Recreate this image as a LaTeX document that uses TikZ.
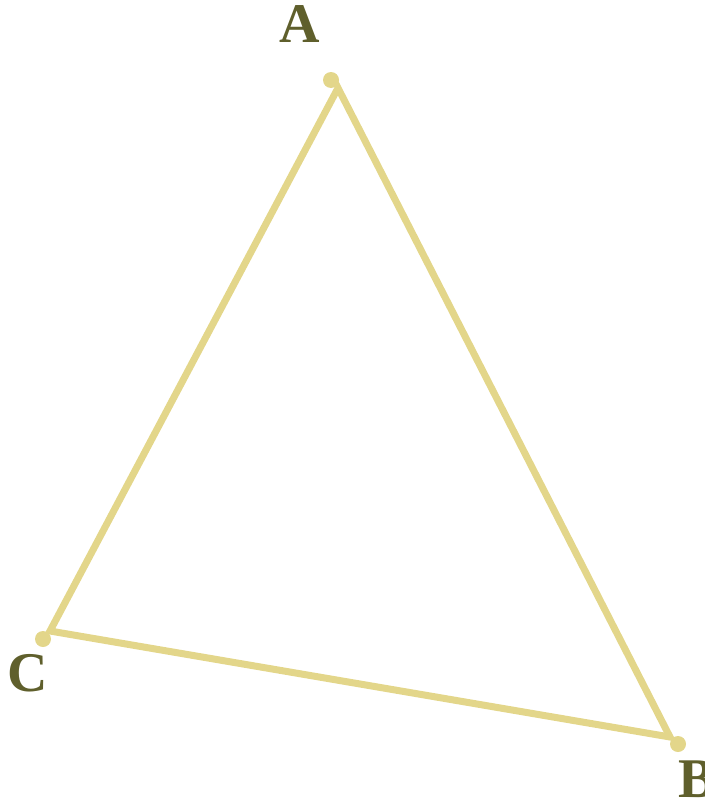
\documentclass[tikz,border=0pt]{standalone}
\usepackage{fontspec}
\setmainfont{Liberation Serif}
\usepackage{xcolor}
\usetikzlibrary{positioning}
\definecolor{edgecol}{HTML}{E3D68A}
\definecolor{labcol}{HTML}{5F5F2C}

\begin{document}
\begin{tikzpicture}[x=1pt, y=-1pt,
    dot/.style={circle, fill=edgecol, inner sep=0pt, minimum size=16pt},
    lab/.style={inner sep=0pt, text=labcol, font=\fontsize{56}{60}\selectfont\bfseries},
    edge/.style={draw=edgecol, line width=7pt, line join=miter}
  ]
  \useasboundingbox (0,0) rectangle (704,800);
  % corners of the triangle
  \coordinate (ca) at (338,88);
  \coordinate (cb) at (670,737);
  \coordinate (cc) at (50,631);
  \draw[edge] (ca) -- (cb) -- (cc) -- cycle;
  % vertex dots and labels
  \node[dot] (pa) at (331,80) {};
  \node[dot] (pb) at (678,744) {};
  \node[dot] (pc) at (43,639) {};
  \node[lab] (la) at (300,24) {A};
  \node[lab] (lb) at (697,779) {B};
  \node[lab] (lc) at (28,673) {C};
\end{tikzpicture}
\end{document}
